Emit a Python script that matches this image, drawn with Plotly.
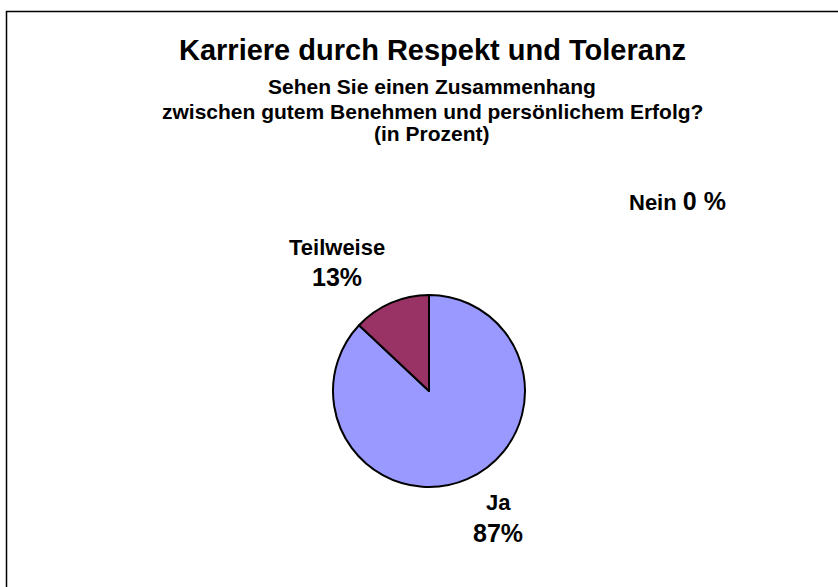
import plotly.graph_objects as go

labels = ["Ja", "Teilweise", "Nein"]
values = [87, 13, 0]
colors = ["#9999FF", "#993366", "#FFFFCC"]

title = "Karriere durch Respekt und Toleranz"
subtitle = ["Sehen Sie einen Zusammenhang",
            "zwischen gutem Benehmen und persönlichem Erfolg?",
            "(in Prozent)"]

W, H = 838, 587
FONT = "Liberation Sans, Arial, sans-serif"

def px(x):
    return x / W

def py(y):
    return 1 - y / H

fig = go.Figure(go.Pie(
    labels=labels, values=values, sort=False, direction="clockwise", rotation=0,
    marker=dict(colors=colors, line=dict(color="black", width=2)),
    textinfo="none", hoverinfo="label+percent", showlegend=False,
    domain=dict(x=[px(333), px(525)], y=[py(487), py(295)]),
))

ann = []
ann.append(dict(x=px(432), y=py(50), text="<b>" + title + "</b>", font=dict(size=29)))
for s, yy in zip(subtitle, [86, 111, 134]):
    ann.append(dict(x=px(432), y=py(yy), text="<b>" + s + "</b>", font=dict(size=21)))

# slice labels
ann.append(dict(x=px(498), y=py(502), text="<b>" + labels[0] + "</b>", font=dict(size=22)))
ann.append(dict(x=px(498), y=py(533), text="<b>%d%%</b>" % values[0], font=dict(size=25)))
ann.append(dict(x=px(337), y=py(247), text="<b>" + labels[1] + "</b>", font=dict(size=22)))
ann.append(dict(x=px(337), y=py(277), text="<b>%d%%</b>" % values[1], font=dict(size=25)))
ann.append(dict(x=px(677), y=py(201),
                text="<b>" + labels[2] + " <span style='font-size:25px'>%d %%</span></b>" % values[2],
                font=dict(size=22)))

for a in ann:
    a.update(xref="paper", yref="paper", showarrow=False, xanchor="center", yanchor="middle")
    a["font"].update(family=FONT, color="black")

fig.update_layout(
    width=W, height=H, margin=dict(l=0, r=0, t=0, b=0),
    paper_bgcolor="white", plot_bgcolor="white",
    annotations=ann,
    shapes=[dict(type="rect", xref="paper", yref="paper",
                 x0=px(6.5), x1=1.02, y0=-0.02, y1=py(11.5),
                 line=dict(color="black", width=1.5), fillcolor="rgba(0,0,0,0)")],
    font=dict(family=FONT),
)

fig.write_html("out.html", config={"displayModeBar": False},
               post_script="document.body.style.margin='0';document.body.style.overflow='hidden';")
